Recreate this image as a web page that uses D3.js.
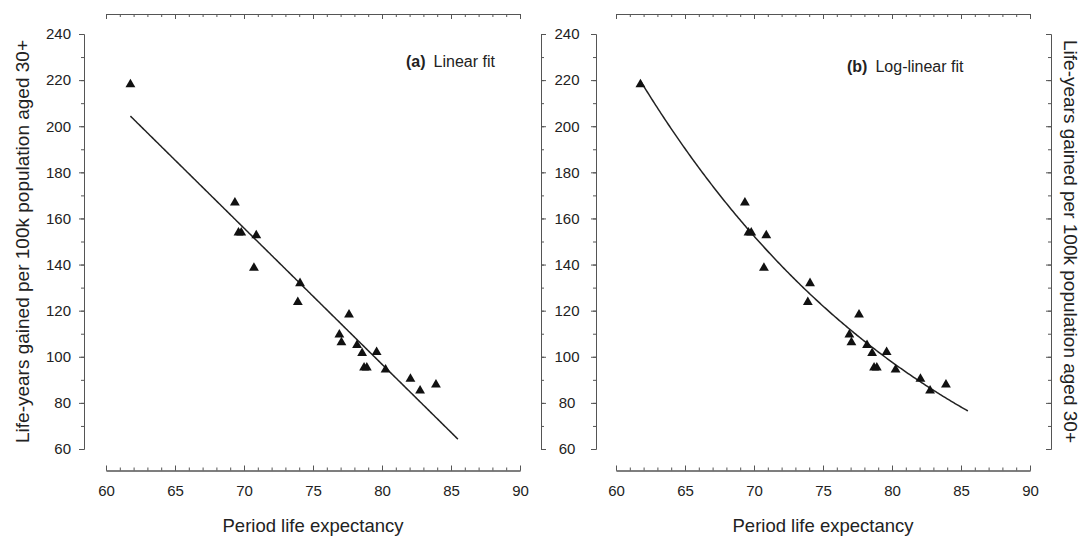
<!DOCTYPE html>
<html lang="en">

<head>
  <meta charset="UTF-8" />
  <script src="https://d3js.org/d3.v7.min.js"></script>
  <style>
    body {
      margin: 0;
      background-color: #fff;
      overflow: hidden;
    }

    svg {
      width: 1087px;
      height: 538px;
      font-family: "Liberation Sans", Arial, sans-serif;
    }

    .axis path,
    .axis line {
      stroke: #555;
      stroke-width: 1;
    }

    .axis text {
      fill: #222;
      font-size: 15px;
    }
  </style>
</head>

<body>
  <svg></svg>

  <script>
    // period life expectancy vs life-years gained per 100k population aged 30+
    const lifeExpectancy = [61.77, 69.34, 69.6, 69.8, 70.89, 70.72, 74.06, 73.9, 77.61, 76.91,
      77.06, 78.19, 78.56, 78.7, 78.9, 79.61, 80.26, 82.06, 82.76, 83.91];
    const lifeYearsGained = [218.6, 167.3, 154.3, 154.3, 153.1, 139, 132.3, 124.1, 118.7, 110,
      106.7, 105.5, 102, 95.7, 95.7, 102.4, 94.8, 90.8, 85.7, 88.3];
    const fitRange = [61.77, 85.5];

    const xTicks = [60, 65, 70, 75, 80, 85, 90];
    const yTicks = [60, 80, 100, 120, 140, 160, 180, 200, 220, 240];
    const panelLabels = [["(a)", "Linear fit"], ["(b)", "Log-linear fit"]];
    const yTitle = "Life-years gained per 100k population aged 30+";
    const xTitle = "Period life expectancy";

    const points = lifeExpectancy.map((x, i) => ({ x, y: lifeYearsGained[i] }));

    // least squares fits
    function ols(xs, ys) {
      const mx = d3.mean(xs), my = d3.mean(ys);
      const sxy = d3.sum(xs, (x, i) => (x - mx) * (ys[i] - my));
      const sxx = d3.sum(xs, x => (x - mx) ** 2);
      const b = sxy / sxx;
      return { a: my - b * mx, b };
    }
    const lin = ols(lifeExpectancy, lifeYearsGained);
    const loglin = ols(lifeExpectancy, lifeYearsGained.map(Math.log));
    const fits = [
      x => lin.a + lin.b * x,
      x => Math.exp(loglin.a + loglin.b * x)
    ];

    const svg = d3.select("svg");
    const y = d3.scaleLinear().domain([60, 240]).range([449, 34]);
    const topY = 14, bottomY = 470.5;

    function drawPanel(idx, x0, x1, leftX, rightX) {
      const x = d3.scaleLinear().domain([60, 90]).range([x0, x1]);
      const g = svg.append("g");

      // top axis, ticks pointing down
      g.append("g").attr("class", "axis").attr("transform", `translate(0,${topY})`)
        .call(d3.axisBottom(x).tickValues(d3.range(60, 91, 1)).tickSize(3).tickSizeOuter(0).tickFormat(""));
      g.append("g").attr("class", "axis").attr("transform", `translate(0,${topY})`)
        .call(d3.axisBottom(x).tickValues(xTicks).tickSize(5).tickSizeOuter(0).tickFormat(""));

      // bottom axis, ticks pointing up
      g.append("g").attr("class", "axis").attr("transform", `translate(0,${bottomY})`)
        .call(d3.axisBottom(x).tickValues(d3.range(60, 91, 1)).tickSize(-3).tickSizeOuter(0).tickFormat(""));
      g.append("g").attr("class", "axis").attr("transform", `translate(0,${bottomY})`)
        .call(d3.axisBottom(x).tickValues(xTicks).tickSize(-5).tickSizeOuter(0).tickPadding(15));

      // left and right y axes
      const minorY = d3.range(60, 241, 10);
      const leftAxis = g.append("g").attr("class", "axis").attr("transform", `translate(${leftX},0)`);
      leftAxis.call(d3.axisLeft(y).tickValues(minorY).tickSize(3).tickSizeOuter(0).tickFormat(""));
      const leftMajor = g.append("g").attr("class", "axis").attr("transform", `translate(${leftX},0)`)
        .call(d3.axisLeft(y).tickValues(yTicks).tickSize(5).tickSizeOuter(0)
          .tickPadding(idx === 0 ? 8 : 24));
      if (idx === 1) leftMajor.selectAll("text").attr("text-anchor", "middle");

      const rightSize = idx === 0 ? 1 : -1;
      g.append("g").attr("class", "axis").attr("transform", `translate(${rightX},0)`)
        .call(d3.axisRight(y).tickValues(minorY).tickSize(3 * rightSize).tickSizeOuter(0).tickFormat(""));
      g.append("g").attr("class", "axis").attr("transform", `translate(${rightX},0)`)
        .call(d3.axisRight(y).tickValues(yTicks).tickSize(5 * rightSize).tickSizeOuter(0).tickFormat(""));

      // fit line
      const fx = d3.range(fitRange[0], fitRange[1], 0.1).concat([fitRange[1]]);
      g.append("path")
        .datum(fx)
        .attr("fill", "none")
        .attr("stroke", "#222")
        .attr("stroke-width", 1.5)
        .attr("d", d3.line().x(d => x(d)).y(d => y(fits[idx](d))));

      // points
      g.selectAll(".pt")
        .data(points)
        .join("path")
        .attr("class", "pt")
        .attr("transform", d => `translate(${x(d.x)},${y(d.y) + 1})`)
        .attr("d", d3.symbol(d3.symbolTriangle, 42))
        .attr("fill", "#111");

      // x title
      g.append("text")
        .attr("x", (x0 + x1) / 2)
        .attr("y", 532)
        .attr("text-anchor", "middle")
        .style("font-size", "18.5px")
        .style("fill", "#222")
        .text(xTitle);

      // panel label
      const lx = idx === 0 ? 406 : 847;
      const ly = idx === 0 ? 67 : 72;
      const lab = g.append("text").attr("x", lx).attr("y", ly)
        .style("font-size", "16px").style("fill", "#222");
      lab.append("tspan").style("font-weight", "bold").text(panelLabels[idx][0]);
      lab.append("tspan").attr("dx", 8).text(panelLabels[idx][1]);
    }

    drawPanel(0, 106, 520, 84, 541);
    drawPanel(1, 616, 1030, 596, 1051);

    const midY = (y(60) + y(240)) / 2;
    svg.append("text")
      .attr("transform", `translate(29,${midY}) rotate(-90)`)
      .attr("text-anchor", "middle")
      .style("font-size", "19px")
      .style("fill", "#222")
      .text(yTitle);

    svg.append("text")
      .attr("transform", `translate(1064,${midY}) rotate(90)`)
      .attr("text-anchor", "middle")
      .style("font-size", "19px")
      .style("fill", "#222")
      .text(yTitle);
  </script>
</body>

</html>
